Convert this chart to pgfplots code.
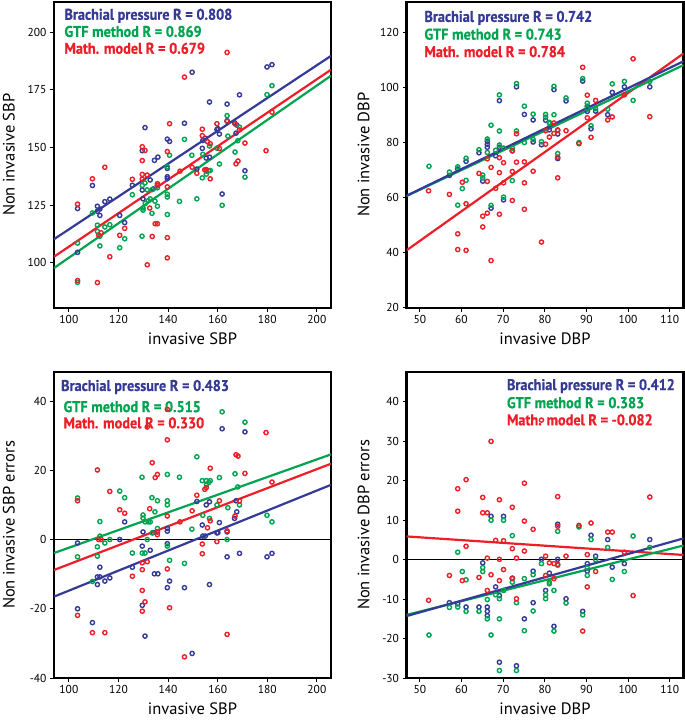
\documentclass[border=0pt]{standalone}
\usepackage{pgfplots}
\pgfplotsset{compat=1.18}
\usepackage{fontspec}
\setmainfont{PT Sans}
\newfontfamily\legfont[FakeStretch=0.92,FakeBold=0.7]{PT Sans Bold}
\definecolor{cblue}{RGB}{52,58,150}
\definecolor{cgreen}{RGB}{0,163,80}
\definecolor{cred}{RGB}{236,30,40}
\tikzset{leg/.style={anchor=base west, text=#1, font=\legfont\fontsize{15.5}{17}\selectfont}}
\pgfplotsset{
  myaxis/.style={
    scale only axis, width=277pt, height=306pt, anchor=south west,
    axis line style={line width=2.2pt},
    tick style={black, line width=1pt},
    major tick length=4pt,
    tick align=outside, xtick pos=bottom, ytick pos=left,
    ticklabel style={font=\fontsize{11.5}{13}\selectfont},
    /pgf/number format/assume math mode=true,
    label style={font=\fontsize{16.5}{18}\selectfont},
    xlabel style={at={(axis description cs:0.5,-0.1)},anchor=center},
  },
  pts/.style={only marks, mark=o, mark size=2.1pt, line width=1.4pt, color=#1},
  fit/.style={line width=2.2pt, color=#1, no marks},
}
\begin{document}
\begin{tikzpicture}
\useasboundingbox (0pt,0pt) rectangle (685pt,720pt);
% ---------------- Panel 1 ----------------
\begin{axis}[myaxis, at={(54pt,412.3pt)},
  xmin=94, xmax=205.7, ymin=80.5, ymax=213.2,
  xtick={100,120,...,200}, ytick={100,125,...,200},
  xlabel={invasive SBP}, ylabel={Non invasive SBP},
  ylabel style={at={(axis description cs:-0.163,0.5)},anchor=center}]
\addplot[pts=cblue] coordinates {(161.8,129.8) (171.0,139.9) (122.5,117.4) (167.4,156.2) (167.7,159.7) (166.8,160.7) (156.7,145.8) (155.4,145.4) (151.6,140.6) (153.8,149.6) (160.7,155.8) (160.1,158.1) (163.8,161.6) (154.0,153.0) (155.0,154.0) (139.7,136.5) (139.7,137.3) (135.7,133.5) (134.0,132.0) (129.9,127.7) (103.5,104.5) (103.5,123.5) (109.5,133.5) (111.5,124.5) (111.5,122.3) (112.5,123.3) (112.5,120.5) (114.5,126.5) (116.5,127.6) (120.5,120.5) (125.6,133.6) (129.6,131.5) (129.6,148.6) (130.7,158.6) (132.8,135.9) (134.5,144.4) (135.9,145.8) (139.7,140.9) (139.7,153.6) (140.6,152.6) (146.6,160.5) (149.7,182.6) (156.7,169.7) (159.7,157.8) (163.8,168.8) (168.8,172.8) (179.9,184.9) (181.9,185.9)};
\addplot[pts=cgreen] coordinates {(161.8,124.9) (171.0,137.1) (103.5,91.5) (120.5,106.5) (122.5,110.4) (112.5,107.3) (129.5,111.5) (133.5,121.4) (135.7,124.5) (139.7,128.5) (139.7,129.7) (139.7,120.9) (144.6,126.6) (151.6,127.7) (153.8,136.8) (155.4,138.4) (156.4,139.9) (157.0,140.0) (155.5,139.7) (160.7,142.8) (167.0,148.0) (168.1,152.9) (179.9,172.9) (181.9,176.8) (168.8,158.8) (164.1,154.9) (159.7,149.7) (154.0,147.0) (149.6,146.6) (156.7,150.6) (129.9,122.8) (129.9,123.7) (130.8,125.7) (132.0,126.9) (132.8,127.7) (134.7,126.7) (135.7,132.5) (103.5,108.5) (109.5,121.6) (111.5,116.3) (111.5,113.6) (112.5,111.5) (114.5,115.5) (116.5,116.5) (125.6,129.5) (129.6,133.5) (130.7,134.6) (131.6,131.6) (133.6,131.7) (139.7,141.6) (140.6,146.6) (146.6,153.5) (163.8,163.8)};
\addplot[pts=cred] coordinates {(179.5,148.6) (139.7,102.1) (131.6,99.1) (139.7,110.9) (111.5,91.4) (103.5,92.3) (116.5,102.6) (120.5,111.9) (122.5,114.9) (133.6,111.4) (134.8,116.9) (135.7,116.9) (157.0,136.4) (154.8,140.3) (155.4,140.4) (167.4,142.9) (168.2,144.1) (171.0,151.9) (181.9,165.3) (160.7,149.5) (168.8,157.6) (167.0,160.2) (151.6,138.8) (149.7,141.4) (157.0,151.6) (155.9,152.5) (163.8,161.3) (144.8,139.7) (139.7,132.9) (135.7,133.5) (132.6,123.7) (103.5,125.4) (109.5,136.4) (114.5,141.4) (112.0,112.0) (113.0,113.0) (125.6,136.2) (129.6,136.3) (129.6,138.3) (129.6,150.3) (129.6,144.3) (130.7,148.7) (131.6,138.0) (135.7,134.3) (139.7,148.2) (140.6,160.3) (146.6,180.5) (153.8,155.1) (153.8,157.9) (159.7,160.3) (163.8,191.2)};
\addplot[fit=cblue] coordinates {(94,110.2) (205.7,189.7)};
\addplot[fit=cred] coordinates {(94,102.6) (205.7,183.7)};
\addplot[fit=cgreen] coordinates {(94,97.7) (205.7,181.1)};
\node[leg=cblue] at (rel axis cs:0.025,0.941) {Brachial pressure R = 0.808};
\node[leg=cgreen] at (rel axis cs:0.025,0.885) {GTF method R = 0.869};
\node[leg=cred] at (rel axis cs:0.025,0.830) {Math. model R = 0.679};
\end{axis}
% ---------------- Panel 2 ----------------
\begin{axis}[myaxis, at={(406.5pt,412.3pt)},
  xmin=46.8, xmax=113.3, ymin=20, ymax=131,
  xtick={50,60,...,110}, ytick={20,40,...,120},
  xlabel={invasive DBP}, ylabel={Non invasive DBP},
  ylabel style={at={(axis description cs:-0.155,0.5)},anchor=center}]
\addplot[pts=cblue] coordinates {(67.1,56.1) (70.1,59.1) (83.1,74.1) (91.1,84.9) (95.1,90.0) (105.2,100.1) (57.1,68.0) (59.1,70.3) (61.1,73.1) (64.2,76.2) (65.1,65.9) (66.2,78.2) (66.2,79.3) (66.2,80.4) (68.2,75.1) (69.1,78.2) (69.1,95.1) (73.2,100.1) (72.2,76.9) (75.1,90.1) (77.2,80.1) (77.2,88.1) (79.2,79.1) (80.2,88.0) (81.1,84.5) (82.2,99.1) (83.1,83.0) (85.1,95.0) (89.1,102.2) (90.2,91.2) (90.2,93.1) (92.2,91.3) (96.2,98.1) (99.1,100.1)};
\addplot[pts=cgreen] coordinates {(67.1,57.1) (70.1,60.1) (83.1,75.9) (88.2,79.9) (91.1,86.0) (101.2,95.2) (72.2,66.1) (95.1,92.0) (105.2,102.1) (59.1,57.2) (52.2,71.3) (57.1,69.2) (59.1,71.1) (60.2,63.2) (61.1,66.2) (61.1,74.2) (64.2,77.3) (65.1,67.1) (65.1,68.1) (66.2,81.2) (66.2,76.3) (68.2,77.1) (69.1,79.0) (69.1,84.1) (67.1,86.2) (69.1,97.2) (70.1,77.9) (73.2,101.3) (73.2,84.1) (72.2,77.0) (72.2,77.9) (75.1,79.9) (75.1,93.1) (77.2,81.0) (77.2,90.2) (79.2,80.2) (80.2,89.1) (80.2,90.1) (81.1,86.8) (81.1,87.2) (82.2,90.0) (82.2,100.3) (83.1,84.5) (85.1,96.1) (89.1,103.1) (90.2,92.3) (90.2,94.2) (92.2,92.2) (96.2,101.2) (99.1,102.1)};
\addplot[pts=cred] coordinates {(67.1,37.1) (61.1,40.8) (59.1,41.1) (75.1,55.7) (59.1,46.8) (65.1,49.3) (69.1,53.9) (72.2,58.9) (65.1,53.2) (66.2,54.3) (75.1,65.3) (77.2,69.5) (83.1,67.1) (83.1,74.6) (88.2,79.5) (91.1,81.8) (95.1,88.1) (96.2,89.2) (105.2,89.3) (61.1,57.7) (68.2,63.3) (70.1,65.3) (72.2,69.4) (73.2,72.8) (75.1,72.9) (66.2,65.8) (69.1,69.0) (70.1,72.6) (52.1,62.4) (57.1,61.1) (60.2,65.5) (64.2,68.7) (66.2,74.0) (67.1,70.9) (69.1,74.4) (73.2,83.1) (72.2,76.9) (80.2,79.3) (80.2,84.2) (81.1,81.9) (82.2,83.2) (82.2,87.0) (83.1,84.3) (85.1,84.2) (89.1,107.2) (90.2,88.9) (90.2,97.1) (92.2,95.2) (99.1,97.2) (101.2,110.3) (79.2,43.8)};
\addplot[fit=cred] coordinates {(46.8,40.8) (113.3,112.2)};
\addplot[fit=cgreen] coordinates {(46.8,60.5) (113.3,108.0)};
\addplot[fit=cblue] coordinates {(46.8,60.6) (113.3,109.4)};
\node[leg=cblue] at (rel axis cs:0.052,0.934) {Brachial pressure R = 0.742};
\node[leg=cgreen] at (rel axis cs:0.052,0.876) {GTF method R = 0.743};
\node[leg=cred] at (rel axis cs:0.052,0.819) {Math. model R = 0.784};
\end{axis}
% ---------------- Panel 3 ----------------
\begin{axis}[myaxis, at={(54pt,42pt)},
  xmin=94, xmax=205.7, ymin=-40, ymax=48.4,
  xtick={100,120,...,200}, ytick={-40,-20,...,40},
  xlabel={invasive SBP}, ylabel={Non invasive SBP errors},
  ylabel style={at={(axis description cs:-0.163,0.5)},anchor=center}]
\addplot[black, line width=0.8pt, forget plot] coordinates {(90,0) (210,0)};
\addplot[pts=cblue] coordinates {(161.8,32.0) (171.0,31.1) (122.5,5.1) (167.4,11.2) (167.7,8.0) (166.8,6.1) (156.7,10.9) (155.4,10.0) (151.6,11.0) (153.8,4.2) (160.7,4.9) (160.1,2.0) (163.8,2.2) (154.0,1.0) (155.0,1.0) (139.7,3.2) (139.7,2.4) (135.7,2.2) (134.0,2.0) (129.9,2.2) (103.5,-1.0) (103.5,-20.0) (109.5,-24.0) (111.5,-13.0) (111.5,-10.8) (112.5,-10.8) (112.5,-8.0) (114.5,-12.0) (116.5,-11.1) (120.5,0.0) (125.6,-8.0) (129.6,-1.9) (129.6,-19.0) (130.7,-27.9) (132.8,-3.1) (134.5,-9.9) (135.9,-9.9) (139.7,-1.2) (139.7,-13.9) (140.6,-12.0) (146.6,-13.9) (149.7,-32.9) (156.7,-13.0) (159.7,1.9) (163.8,-5.0) (168.8,-4.0) (179.9,-5.0) (181.9,-4.0)};
\addplot[pts=cgreen] coordinates {(161.8,36.9) (171.0,33.9) (103.5,12.0) (120.5,14.0) (122.5,12.1) (112.5,5.2) (129.5,18.0) (133.5,12.1) (135.7,11.2) (139.7,11.2) (139.7,10.0) (139.7,18.8) (144.6,18.0) (151.6,23.9) (153.8,17.0) (155.4,17.0) (156.4,16.5) (157.0,17.0) (155.5,15.8) (160.7,17.9) (167.0,19.0) (168.1,15.2) (179.9,7.0) (181.9,5.1) (168.8,10.0) (164.1,9.2) (159.7,10.0) (154.0,7.0) (149.6,3.0) (156.7,6.1) (129.9,7.1) (129.9,6.2) (130.8,5.1) (132.0,5.1) (132.8,5.1) (134.7,8.0) (135.7,3.2) (103.5,-5.0) (109.5,-12.1) (111.5,-4.8) (111.5,-2.1) (112.5,1.0) (114.5,-1.0) (116.5,0.0) (125.6,-3.9) (129.6,-3.9) (130.7,-3.9) (131.6,0.0) (133.6,1.9) (139.7,-1.9) (140.6,-6.0) (146.6,-6.9) (163.8,0.0)};
\addplot[pts=cred] coordinates {(179.5,30.9) (139.7,37.6) (131.6,32.5) (139.7,28.8) (111.5,20.1) (103.5,11.2) (116.5,13.9) (120.5,8.6) (122.5,7.6) (133.6,22.2) (134.8,17.9) (135.7,18.8) (157.0,20.6) (154.8,14.5) (155.4,15.0) (167.4,24.5) (168.2,24.1) (171.0,19.1) (181.9,16.6) (160.7,11.2) (168.8,11.2) (167.0,6.8) (151.6,12.8) (149.7,8.3) (157.0,5.4) (155.9,3.4) (163.8,2.5) (144.8,5.1) (139.7,6.8) (135.7,2.2) (132.6,8.9) (103.5,-21.9) (109.5,-26.9) (114.5,-26.9) (112.0,0.0) (113.0,0.0) (125.6,-10.6) (129.6,-6.7) (129.6,-8.7) (129.6,-20.7) (129.6,-14.7) (130.7,-18.0) (131.6,-6.4) (135.7,1.4) (139.7,-8.5) (140.6,-19.7) (146.6,-33.9) (153.8,-1.3) (153.8,-4.1) (159.7,-0.6) (163.8,-27.4)};
\addplot[fit=cgreen] coordinates {(94,-3.9) (205.7,24.6)};
\addplot[fit=cred] coordinates {(94,-8.8) (205.7,21.9)};
\addplot[fit=cblue] coordinates {(94,-16.5) (205.7,15.8)};
\node[leg=cblue] at (rel axis cs:0.013,0.938) {Brachial pressure R = 0.483};
\node[leg=cgreen] at (rel axis cs:0.022,0.869) {GTF method R = 0.515};
\node[leg=cred] at (rel axis cs:0.022,0.816) {Math. model R = 0.330};
\end{axis}
% ---------------- Panel 4 ----------------
\begin{axis}[myaxis, at={(406.5pt,42pt)},
  xmin=46.8, xmax=113.3, ymin=-30, ymax=47.6,
  xtick={50,60,...,110}, ytick={-30,-20,...,40},
  xlabel={invasive DBP}, ylabel={Non invasive DBP errors},
  ylabel style={at={(axis description cs:-0.155,0.5)},anchor=center}]
\addplot[black, line width=0.8pt, forget plot] coordinates {(40,0) (120,0)};
\addplot[pts=cblue] coordinates {(67.1,11.0) (70.1,11.0) (83.1,9.0) (91.1,6.2) (95.1,5.1) (105.2,5.1) (57.1,-10.9) (59.1,-11.2) (61.1,-12.0) (64.2,-12.0) (65.1,-0.8) (66.2,-12.0) (66.2,-13.1) (66.2,-14.2) (68.2,-6.9) (69.1,-9.1) (69.1,-26.0) (73.2,-26.9) (72.2,-4.7) (75.1,-15.0) (77.2,-2.9) (77.2,-10.9) (79.2,0.1) (80.2,-7.8) (81.1,-3.4) (82.2,-16.9) (83.1,0.1) (85.1,-9.9) (89.1,-13.1) (90.2,-1.0) (90.2,-2.9) (92.2,0.9) (96.2,-1.9) (99.1,-1.0)};
\addplot[pts=cgreen] coordinates {(67.1,10.0) (70.1,10.0) (83.1,7.2) (88.2,8.3) (91.1,5.1) (101.2,6.0) (72.2,6.1) (95.1,3.1) (105.2,3.1) (59.1,1.9) (52.2,-19.1) (57.1,-12.1) (59.1,-12.0) (60.2,-3.0) (61.1,-5.1) (61.1,-13.1) (64.2,-13.1) (65.1,-2.0) (65.1,-3.0) (66.2,-15.0) (66.2,-10.1) (68.2,-8.9) (69.1,-9.9) (69.1,-15.0) (67.1,-19.1) (69.1,-28.1) (70.1,-7.8) (73.2,-28.1) (73.2,-10.9) (72.2,-4.8) (72.2,-5.7) (75.1,-4.8) (75.1,-18.0) (77.2,-3.8) (77.2,-13.0) (79.2,-1.0) (80.2,-8.9) (80.2,-9.9) (81.1,-5.7) (81.1,-6.1) (82.2,-7.8) (82.2,-18.1) (83.1,-1.4) (85.1,-11.0) (89.1,-14.0) (90.2,-2.1) (90.2,-4.0) (92.2,0.0) (96.2,-5.0) (99.1,-3.0)};
\addplot[pts=cred] coordinates {(67.1,30.0) (61.1,20.3) (59.1,18.0) (75.1,19.4) (59.1,12.3) (65.1,15.8) (69.1,15.2) (72.2,13.3) (65.1,11.9) (66.2,11.9) (75.1,9.8) (77.2,7.7) (83.1,16.0) (83.1,8.5) (88.2,8.7) (91.1,9.3) (95.1,7.0) (96.2,7.0) (105.2,15.9) (61.1,3.4) (68.2,4.9) (70.1,4.8) (72.2,2.8) (73.2,0.4) (75.1,2.2) (66.2,0.4) (69.1,0.1) (70.1,-2.5) (52.1,-10.3) (57.1,-4.0) (60.2,-5.3) (64.2,-4.5) (66.2,-7.8) (67.1,-3.8) (69.1,-5.3) (73.2,-9.9) (72.2,-4.7) (80.2,0.9) (80.2,-4.0) (81.1,-0.8) (82.2,-1.0) (82.2,-4.8) (83.1,-1.2) (85.1,0.9) (89.1,-18.1) (90.2,1.3) (90.2,-6.9) (92.2,-3.0) (99.1,1.9) (101.2,-9.1) (79.2,35.4)};
\addplot[fit=cred] coordinates {(46.8,5.9) (113.3,1.2)};
\addplot[fit=cgreen] coordinates {(46.8,-14.0) (113.3,3.6)};
\addplot[fit=cblue] coordinates {(46.8,-14.3) (113.3,5.4)};
\node[leg=cblue] at (rel axis cs:0.35,0.941) {Brachial pressure R = 0.412};
\node[leg=cgreen] at (rel axis cs:0.35,0.882) {GTF method R = 0.383};
\node[leg=cred] at (rel axis cs:0.35,0.826) {Math. model R = -0.082};
\end{axis}
\end{tikzpicture}
\end{document}
